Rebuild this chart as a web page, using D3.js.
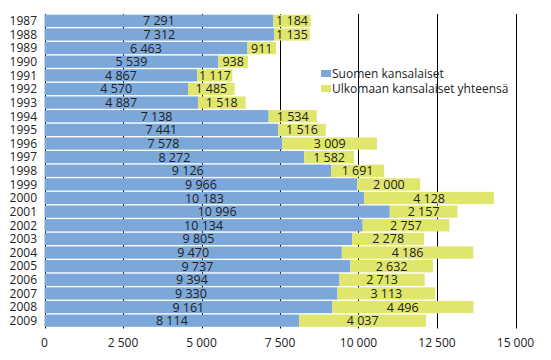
<!DOCTYPE html>
<html><head><meta charset="utf-8">
<script src="https://cdn.jsdelivr.net/npm/d3@7"></script>
<style>body{margin:0;background:#fff}text{font-family:"Open Sans",sans-serif}</style>
</head><body>
<svg id="c" width="551" height="360"></svg>
<script>
const years = ["1987","1988","1989","1990","1991","1992","1993","1994","1995","1996","1997","1998","1999","2000","2001","2002","2003","2004","2005","2006","2007","2008","2009"];
const finnish = [7291,7312,6463,5539,4867,4570,4887,7138,7441,7578,8272,9126,9966,10183,10996,10134,9805,9470,9737,9394,9330,9161,8114];
const foreign = [1184,1135,911,938,1117,1485,1518,1534,1516,3009,1582,1691,2000,4128,2157,2757,2278,4186,2632,2713,3113,4496,4037];
const seriesNames = ["Suomen kansalaiset","Ulkomaan kansalaiset yhteensä"];
const xTicks = [0,2500,5000,7500,10000,12500,15000];

(function(){
const colors = ["#7ba7d9","#e0e66b"];
const loc = d3.formatLocale({decimal:",",thousands:"\u00a0",grouping:[3],currency:["","€"]});
const fmt = loc.format(",d");

const svg = d3.select("#c");
const L = 44.5, R = 515.5, T = 14, B = 327.5;
const x = d3.scaleLinear().domain([0,15000]).range([L,R]);
const y = d3.scaleBand().domain(years).range([T,B]).paddingInner(0.1).paddingOuter(0.05);

svg.append("g").selectAll("line").data(xTicks).join("line")
  .attr("x1",d=>Math.round(x(d))+0.5).attr("x2",d=>Math.round(x(d))+0.5)
  .attr("y1",T).attr("y2",B+1)
  .attr("stroke","#000").attr("stroke-width",1);

svg.append("g").selectAll("text").data(xTicks).join("text")
  .attr("x",d=>x(d)).attr("y",347).attr("text-anchor","middle")
  .attr("font-size",12).attr("fill","#222").text(d=>fmt(d));

const rows = years.map((yr,i)=>({yr,a:finnish[i],b:foreign[i]}));
const g = svg.append("g");
g.selectAll("rect.a").data(rows).join("rect").attr("class","a")
  .attr("x",x(0)).attr("y",d=>y(d.yr)).attr("height",y.bandwidth())
  .attr("width",d=>x(d.a)-x(0)).attr("fill",colors[0]);
g.selectAll("rect.b").data(rows).join("rect").attr("class","b")
  .attr("x",d=>x(d.a)).attr("y",d=>y(d.yr)).attr("height",y.bandwidth())
  .attr("width",d=>x(d.a+d.b)-x(d.a)).attr("fill",colors[1]);

g.selectAll("text.a").data(rows).join("text").attr("class","a")
  .attr("x",d=>(x(0)+x(d.a))/2).attr("y",d=>y(d.yr)+y.bandwidth()/2)
  .attr("dy","0.36em").attr("text-anchor","middle").attr("font-size",12.5).attr("fill","#222")
  .text(d=>fmt(d.a));
g.selectAll("text.b").data(rows).join("text").attr("class","b")
  .attr("x",d=>(x(d.a)+x(d.a+d.b))/2).attr("y",d=>y(d.yr)+y.bandwidth()/2)
  .attr("dy","0.36em").attr("text-anchor","middle").attr("font-size",12.5).attr("fill","#222")
  .text(d=>fmt(d.b));

svg.append("g").selectAll("text").data(years).join("text")
  .attr("x",37).attr("y",d=>y(d)+y.bandwidth()/2).attr("dy","0.36em")
  .attr("text-anchor","end").attr("font-size",12).attr("fill","#222").text(d=>d);

const lg = svg.append("g").attr("transform","translate(321,70)");
seriesNames.forEach((n,i)=>{
  lg.append("rect").attr("x",0).attr("y",i*15).attr("width",10).attr("height",7).attr("fill",colors[i]);
  lg.append("text").attr("x",11).attr("y",i*15+3.5).attr("dy","0.36em")
    .attr("font-size",12).attr("fill","#222").text(n);
});
})();
</script>
</body></html>
